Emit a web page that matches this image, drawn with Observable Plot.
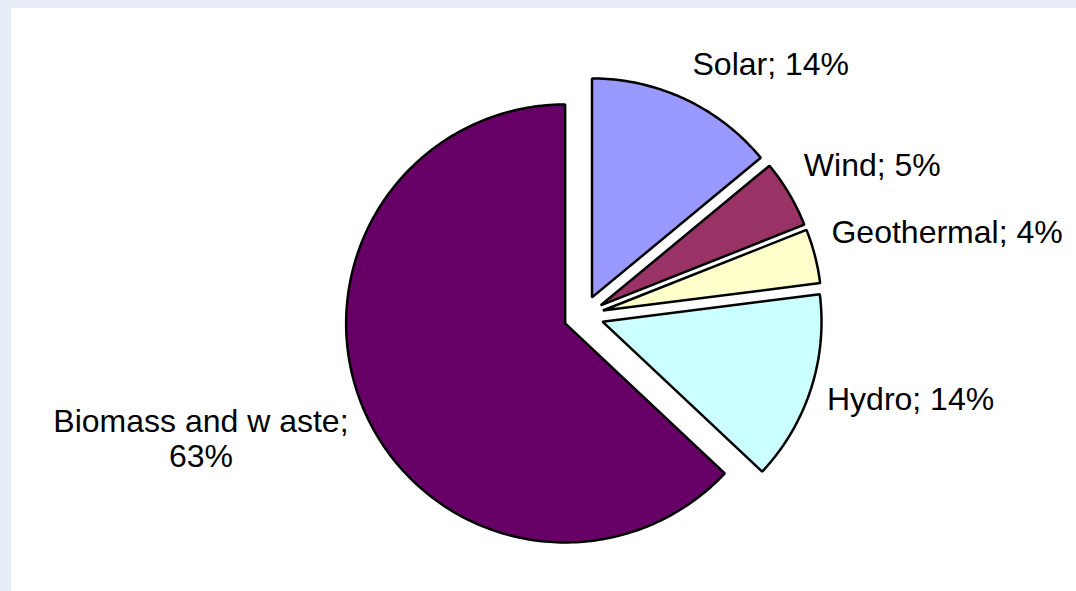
<!DOCTYPE html>
<html><head><meta charset="utf-8">
<script src="https://cdn.jsdelivr.net/npm/d3@7"></script>
<script src="https://cdn.jsdelivr.net/npm/@observablehq/plot@0.6"></script>
<style>
html,body{margin:0;padding:0;}
body{width:1076px;height:591px;background:#e8eef7;position:relative;overflow:hidden;}
#chart{position:absolute;left:11px;top:8px;width:1065px;height:583px;background:#fff;}
</style></head><body><div id="chart"></div>
<script>
// ---- data ----
const categories = ["Solar", "Wind", "Geothermal", "Hydro", "Biomass and w aste"];
const shares = [14, 5, 4, 14, 63];
const labels = ["Solar; 14%", "Wind; 5%", "Geothermal; 4%", "Hydro; 14%", "Biomass and w aste;\n63%"];
const colors = ["#9999ff", "#993366", "#ffffcc", "#ccffff", "#660066"];

// ---- layout ----
const W = 1065, H = 583, CX = 572, CY = 307, RPX = 219;
const EXPLODE = 20 / RPX, LABEL_R = 256 / RPX, LABEL_DY = 9 / RPX;
const FONT = "'Liberation Sans', Arial, sans-serif";
const FS = 32;

const total = d3.sum(shares);
let cum = 0;
const slices = categories.map((c, i) => {
  const a0 = cum / total * 2 * Math.PI; cum += shares[i];
  const a1 = cum / total * 2 * Math.PI;
  return {name: c, value: shares[i], a0, a1, mid: (a0 + a1) / 2, label: labels[i]};
});

const pts = [];
for (const s of slices) {
  const ox = EXPLODE * Math.sin(s.mid), oy = EXPLODE * Math.cos(s.mid);
  pts.push({name: s.name, x: ox, y: oy});
  const n = Math.max(8, Math.ceil((s.a1 - s.a0) / (2 * Math.PI) * 360));
  for (let k = 0; k <= n; k++) {
    const a = s.a0 + (s.a1 - s.a0) * k / n;
    pts.push({name: s.name, x: ox + Math.sin(a), y: oy + Math.cos(a)});
  }
}

const ctx = document.createElement("canvas").getContext("2d");
ctx.font = `${FS}px 'Liberation Sans'`;
const labelData = slices.map(s => {
  const lines = s.label.split("\n");
  const w = d3.max(lines, l => ctx.measureText(l).width) / RPX;
  const sx = Math.sin(s.mid), cy = Math.cos(s.mid);
  return {text: s.label, x: LABEL_R * sx + (sx >= 0 ? 1 : -1) * w / 2, y: LABEL_R * cy + LABEL_DY, upper: cy > 0};
});

const textOpts = {x: "x", y: "y", text: "text", textAnchor: "middle", fontSize: FS, fontFamily: FONT, fill: "black", lineHeight: 1.07};

const chart = Plot.plot({
  width: W, height: H, margin: 0,
  x: {domain: [-CX / RPX, (W - CX) / RPX], axis: null},
  y: {domain: [-(H - CY) / RPX, CY / RPX], axis: null},
  color: {domain: categories, range: colors},
  style: {background: "white", overflow: "visible"},
  marks: [
    Plot.line(pts, {x: "x", y: "y", z: "name", fill: "name", stroke: "black", strokeWidth: 2.5, curve: "linear-closed", strokeLinejoin: "miter"}),
    Plot.text(labelData.filter(d => d.upper), {...textOpts, lineAnchor: "bottom"}),
    Plot.text(labelData.filter(d => !d.upper), {...textOpts, lineAnchor: "top"})
  ]
});
document.getElementById("chart").appendChild(chart);
</script>
</body></html>
